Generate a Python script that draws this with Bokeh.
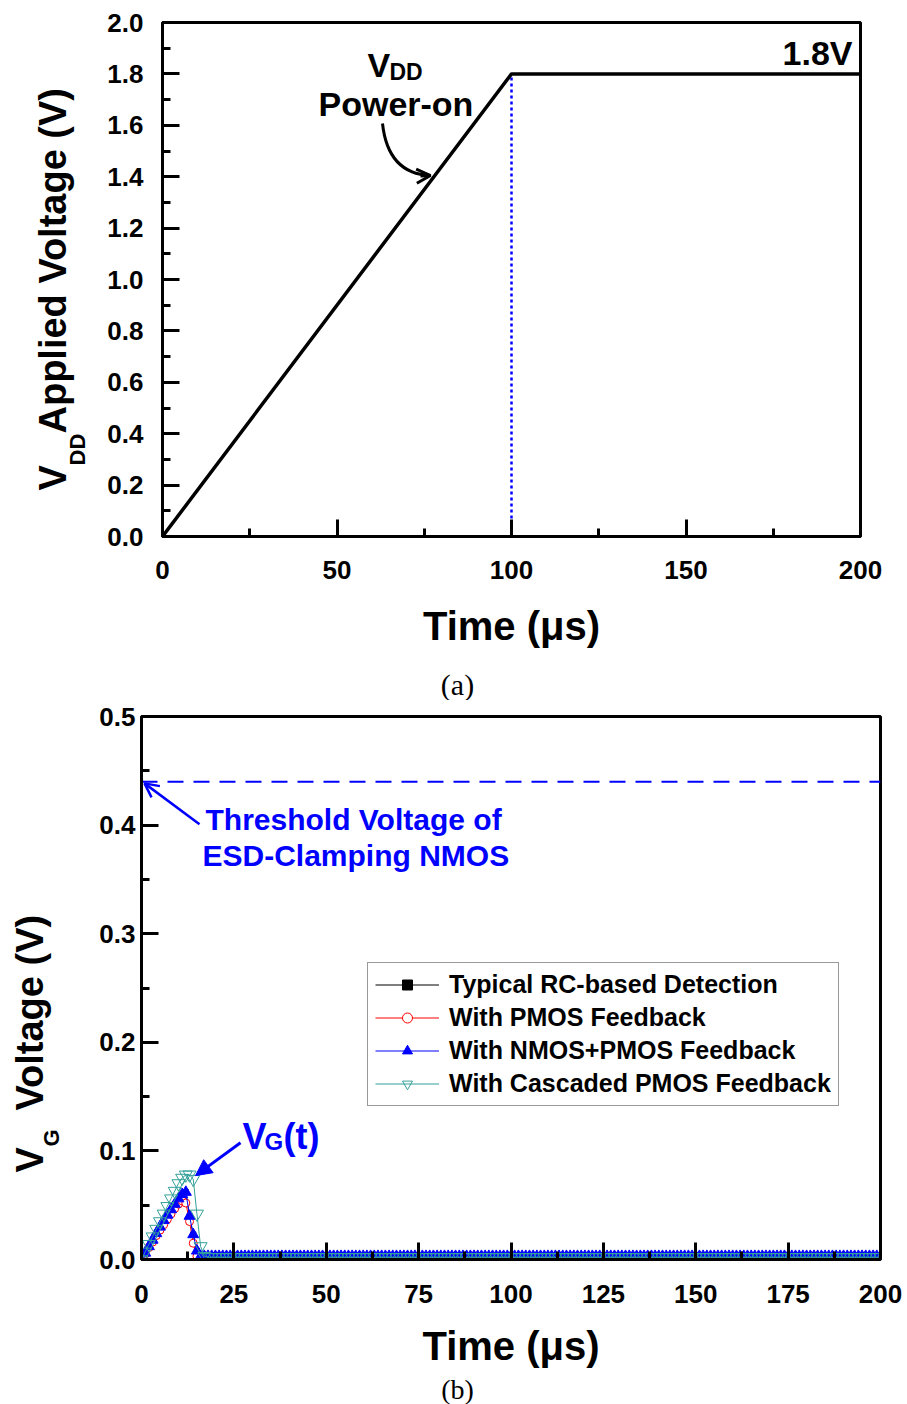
import numpy as np
from bokeh.plotting import figure
from bokeh.layouts import column, row
from bokeh.models import (Range1d, FixedTicker, PrintfTickFormatter, Label, Arrow,
                          OpenHead, NormalHead, Legend, LegendItem, Spacer)
from bokeh.core.properties import value
from bokeh.embed import file_html
from bokeh.resources import INLINE

FONT = "Liberation Sans"
SERIF = "Liberation Serif"

# ---------------- data: panel (a) ----------------
time_a = [0, 100, 200]
vdd_a = [0.0, 1.8, 1.8]
xticks_a = [0, 50, 100, 150, 200]
xminor_a = [25, 75, 125, 175]
yticks_a = [0.0, 0.2, 0.4, 0.6, 0.8, 1.0, 1.2, 1.4, 1.6, 1.8, 2.0]
yminor_a = [0.1, 0.3, 0.5, 0.7, 0.9, 1.1, 1.3, 1.5, 1.7, 1.9]

# ---------------- data: panel (b) ----------------
time_early = [0, 1, 2, 3, 4, 5, 6, 7, 8, 9, 10, 11, 12, 13, 14, 15, 16, 17, 18, 19, 20]
rc_early   = [0.000, 0.006, 0.012, 0.018, 0.024, 0.030, 0.036, 0.041, 0.046, 0.051, 0.056,
              0.060, 0.062, 0.040, 0.023, 0.008, 0.003, 0.000, 0.000, 0.000, 0.000]
pmos_early = [0.000, 0.005, 0.011, 0.016, 0.022, 0.027, 0.032, 0.037, 0.042, 0.047, 0.051,
              0.054, 0.052, 0.035, 0.015, 0.003, 0.001, 0.001, 0.001, 0.001, 0.001]
nmos_early = [0.000, 0.006, 0.012, 0.018, 0.024, 0.030, 0.036, 0.041, 0.046, 0.051, 0.056,
              0.060, 0.062, 0.040, 0.023, 0.008, 0.003, 0.003, 0.003, 0.003, 0.003]
casc_early = [0.000, 0.007, 0.014, 0.021, 0.028, 0.035, 0.042, 0.049, 0.056, 0.063, 0.070,
              0.075, 0.078, 0.078, 0.074, 0.042, 0.012, 0.003, 0.002, 0.002, 0.002]
time_tail = list(range(21, 201))
rc_level, pmos_level, nmos_level, casc_level = 0.000, 0.001, 0.003, 0.002
threshold_v = 0.44
xticks_b = [0, 25, 50, 75, 100, 125, 150, 175, 200]
xminor_b = [12.5, 37.5, 62.5, 87.5, 112.5, 137.5, 162.5, 187.5]
yticks_b = [0.0, 0.1, 0.2, 0.3, 0.4, 0.5]
yminor_b = [0.05, 0.15, 0.25, 0.35, 0.45]
series_labels = ["Typical RC-based Detection", "With PMOS Feedback",
                 "With NMOS+PMOS Feedback", "With Cascaded PMOS Feedback"]

time_b = time_early + time_tail
rc_b = rc_early + [rc_level] * len(time_tail)
pmos_b = pmos_early + [pmos_level] * len(time_tail)
nmos_b = nmos_early + [nmos_level] * len(time_tail)
casc_b = casc_early + [casc_level] * len(time_tail)

W = 907
# frame geometry in page pixels
GA = dict(fl=162, ftop=22, fw=698, fh=514, xr=(0, 200), yr=(0, 2.0))
GB = dict(fl=141, ftop=716, fw=739, fh=544, xr=(0, 200), yr=(0, 0.5))
LAB_A_W, LAB_B_W, RIGHT_PAD_A = 95, 74, 20
ROW_A_H, CAP_A_H, ROW_B_H = 660, 40, 670
CAP_B_H = 1404 - ROW_A_H - CAP_A_H - ROW_B_H


def no_align(p):
    if "frame_align" in p.properties():
        p.frame_align = False


def to_data(g, px, py):
    x = g["xr"][0] + (px - g["fl"]) / g["fw"] * (g["xr"][1] - g["xr"][0])
    y = g["yr"][1] - (py - g["ftop"]) / g["fh"] * (g["yr"][1] - g["yr"][0])
    return x, y


def make_fig(w, h, bl, br, bt, bb, g, xt, xm, yt, ym, ylab_standoff, xlab_standoff, xaxis_label_standoff):
    p = figure(width=w, height=h, x_range=Range1d(*g["xr"]), y_range=Range1d(*g["yr"]),
               output_backend="svg", toolbar_location=None,
               min_border_left=bl, min_border_right=br, min_border_top=bt, min_border_bottom=bb)
    no_align(p)
    p.grid.grid_line_color = None
    p.outline_line_color = "black"
    p.outline_line_width = 3
    p.outline_line_alpha = 1
    p.background_fill_color = "white"
    p.border_fill_color = "white"
    p.xaxis.ticker = FixedTicker(ticks=xt, minor_ticks=xm)
    p.yaxis.ticker = FixedTicker(ticks=yt, minor_ticks=ym)
    p.xaxis.formatter = PrintfTickFormatter(format="%d")
    p.yaxis.formatter = PrintfTickFormatter(format="%.1f")
    for ax in (p.xaxis[0], p.yaxis[0]):
        ax.axis_line_width = 3
        ax.axis_line_color = "black"
        ax.major_tick_line_width = 3
        ax.minor_tick_line_width = 3
        ax.major_tick_in = 17
        ax.major_tick_out = 0
        ax.minor_tick_in = 8
        ax.minor_tick_out = 0
        ax.major_label_text_font = FONT
        ax.major_label_text_font_style = "bold"
        ax.major_label_text_font_size = "26px"
        ax.major_label_text_color = "black"
    p.yaxis.major_label_standoff = ylab_standoff
    p.xaxis.major_label_standoff = xlab_standoff
    p.xaxis.axis_label = "Time (μs)"
    p.xaxis.axis_label_text_font = FONT
    p.xaxis.axis_label_text_font_style = "bold"
    p.xaxis.axis_label_text_font_size = "40px"
    p.xaxis.axis_label_text_color = "black"
    p.xaxis.axis_label_standoff = xaxis_label_standoff
    return p


def make_blank(w, h, x0, y0):
    p = figure(width=w, height=h, x_range=Range1d(x0, x0 + w), y_range=Range1d(y0 + h, y0),
               x_axis_type=None, y_axis_type=None, output_backend="svg", toolbar_location=None,
               min_border=0, min_border_left=0, min_border_right=0, min_border_top=0,
               min_border_bottom=0)
    no_align(p)
    p.outline_line_color = None
    p.background_fill_color = "white"
    p.border_fill_color = "white"
    return p


def gtext(p, x, y, text, size, angle=0.0, align="left", font=FONT, style="bold", color="black"):
    p.text(x=[x], y=[y], text=[text], angle=angle, text_font=value(font),
           text_font_size=value(f"{size}px"), text_font_style=style, text_color=color,
           text_align=align, text_baseline="middle")


def label(p, g, px, py, text, size, color="black", align="left"):
    x, y = to_data(g, px, py)
    p.add_layout(Label(x=x, y=y, text=text, text_font=FONT, text_font_size=f"{size}px",
                       text_font_style="bold", text_color=color, text_align=align,
                       text_baseline="middle"))


# ---------------- panel (a) ----------------
pa = make_fig(W - LAB_A_W - RIGHT_PAD_A, ROW_A_H, GA["fl"] - LAB_A_W, W - GA["fl"] - GA["fw"] - RIGHT_PAD_A,
              GA["ftop"], ROW_A_H - GA["ftop"] - GA["fh"], GA,
              xticks_a, xminor_a, yticks_a, yminor_a, 19, 24, 22)
pa.segment(x0=[time_a[1]], y0=[0], x1=[time_a[1]], y1=[vdd_a[1]],
           line_color="#0000ff", line_width=2.5, line_dash="3 3")
pa.line(time_a, vdd_a, line_color="black", line_width=3.5)

label(pa, GA, 367, 64, "V", 34)
label(pa, GA, 389, 71, "DD", 23)
label(pa, GA, 318, 103, "Power-on", 34)
label(pa, GA, 852, 52, "1.8V", 34, align="right")

bx0, by0 = to_data(GA, 382, 123)
bcx0, bcy0 = to_data(GA, 386, 160)
bcx1, bcy1 = to_data(GA, 405, 174)
bx1, by1 = to_data(GA, 430, 175)
pa.bezier(x0=[bx0], y0=[by0], x1=[bx1], y1=[by1], cx0=[bcx0], cy0=[bcy0], cx1=[bcx1], cy1=[bcy1],
          line_color="black", line_width=3)
ax0, ay0 = to_data(GA, 420, 175.5)
pa.add_layout(Arrow(end=OpenHead(size=14, line_width=3, line_color="black"),
                    x_start=ax0, y_start=ay0, x_end=bx1, y_end=by1,
                    line_width=3, line_color="black"))

lab_a = make_blank(LAB_A_W, ROW_A_H, 0, 0)
gtext(lab_a, 52, 490, "V", 38, angle=np.pi / 2)
gtext(lab_a, 77, 465, "DD", 22, angle=np.pi / 2)
gtext(lab_a, 52, 433, "Applied Voltage (V)", 38, angle=np.pi / 2)

cap_a = make_blank(W, CAP_A_H, 0, ROW_A_H)
gtext(cap_a, 457, 684, "(a)", 30, align="center", font=SERIF, style="normal")

# ---------------- panel (b) ----------------
yb0 = ROW_A_H + CAP_A_H
pb = make_fig(W - LAB_B_W, ROW_B_H, GB["fl"] - LAB_B_W, W - GB["fl"] - GB["fw"],
              GB["ftop"] - yb0, yb0 + ROW_B_H - GB["ftop"] - GB["fh"], GB,
              xticks_b, xminor_b, yticks_b, yminor_b, 6, 25, 18)
pb.line([GB["xr"][0], GB["xr"][1]], [threshold_v, threshold_v], line_color="#0000ff",
        line_width=2, line_dash="16 10")

teal = "#33a09a"
r_rc_l = pb.line(time_b, rc_b, line_color="black", line_width=1)
r_rc_s = pb.scatter(time_b, rc_b, marker="square", size=5, color="black")
r_pm_l = pb.line(time_b, pmos_b, line_color="#ff0000", line_width=1)
r_pm_s = pb.scatter(time_b, pmos_b, marker="circle", size=8, line_color="#ff0000",
                    fill_color="white", line_width=1)
r_nm_l = pb.line(time_b, nmos_b, line_color="#0000ff", line_width=1)
r_nm_s = pb.scatter(time_b, nmos_b, marker="triangle", size=11, color="#0000ff")
r_cs_l = pb.line(time_b, casc_b, line_color=teal, line_width=1)
r_cs_s = pb.scatter(time_b, casc_b, marker="inverted_triangle", size=13, line_color=teal,
                    fill_color=None, line_width=1)

legend = Legend(items=[LegendItem(label=series_labels[0], renderers=[r_rc_l, r_rc_s]),
                       LegendItem(label=series_labels[1], renderers=[r_pm_l, r_pm_s]),
                       LegendItem(label=series_labels[2], renderers=[r_nm_l, r_nm_s]),
                       LegendItem(label=series_labels[3], renderers=[r_cs_l, r_cs_s])],
                location=(226, 153), label_text_font=FONT, label_text_font_style="bold",
                label_text_font_size="25px", label_text_color="black",
                glyph_width=64, glyph_height=25, label_height=25, spacing=4,
                padding=7, margin=0, label_standoff=10,
                border_line_color="#333333", border_line_width=1.5,
                background_fill_color="white", background_fill_alpha=1)
pb.add_layout(legend)

label(pb, GB, 205, 819, "Threshold Voltage of", 30, color="#0000ff")
label(pb, GB, 202, 855, "ESD-Clamping NMOS", 30, color="#0000ff")
label(pb, GB, 242, 1137, "V", 36, color="#0000ff")
label(pb, GB, 264, 1142, "G", 24, color="#0000ff")
label(pb, GB, 283, 1137, "(t)", 36, color="#0000ff")

tx0, ty0 = to_data(GB, 199, 824)
tx1, ty1 = to_data(GB, 144, 783)
pb.add_layout(Arrow(end=OpenHead(size=14, line_width=2.5, line_color="#0000ff"),
                    x_start=tx0, y_start=ty0, x_end=tx1, y_end=ty1,
                    line_width=2.5, line_color="#0000ff"))
vx0, vy0 = to_data(GB, 240, 1143)
vx1, vy1 = to_data(GB, 195, 1176)
pb.add_layout(Arrow(end=NormalHead(size=16, fill_color="#0000ff", line_color="#0000ff"),
                    x_start=vx0, y_start=vy0, x_end=vx1, y_end=vy1,
                    line_width=3, line_color="#0000ff"))

lab_b = make_blank(LAB_B_W, ROW_B_H, 0, yb0)
gtext(lab_b, 29, 1172, "V", 38, angle=np.pi / 2)
gtext(lab_b, 51, 1146, "G", 22, angle=np.pi / 2)
gtext(lab_b, 29, 1110, "Voltage (V)", 38, angle=np.pi / 2)

cap_b = make_blank(W, CAP_B_H, 0, yb0 + ROW_B_H)
gtext(cap_b, 457, 1389, "(b)", 28, align="center", font=SERIF, style="normal")

layout = column(row(lab_a, pa, Spacer(width=RIGHT_PAD_A, height=ROW_A_H), spacing=0),
                cap_a,
                row(lab_b, pb, spacing=0),
                cap_b, spacing=0)
with open("out.html", "w") as f:
    f.write(file_html(layout, INLINE))
